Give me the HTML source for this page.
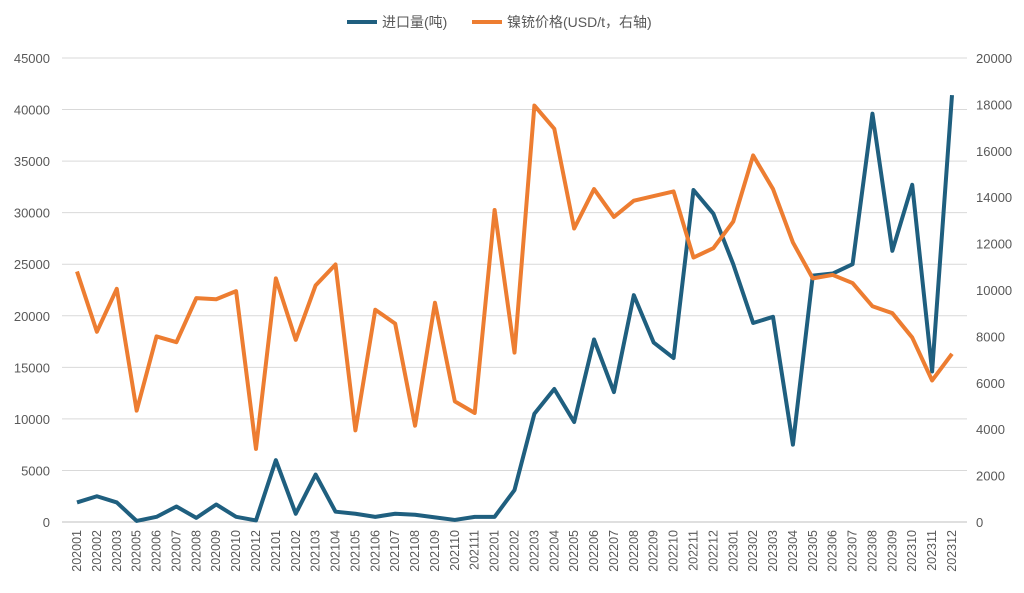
<!DOCTYPE html>
<html><head><meta charset="utf-8">
<style>
body{margin:0;background:#fff;font-family:"Liberation Sans","Noto Sans CJK SC",sans-serif;}
svg text{font-family:"Liberation Sans","Noto Sans CJK SC",sans-serif;fill:#595959;}
</style></head>
<body>
<svg id="chart" width="1024" height="588" viewBox="0 0 1024 588">
<g id="grid"></g>
<g id="ylab"></g>
<g id="y2lab"></g>
<g id="xlab"></g>
<g id="series"></g>
<g>
 <g>
  <line x1="347" y1="22" x2="377" y2="22" stroke="#1f5f7f" stroke-width="4"/>
  <text x="382" y="27" font-size="14">进口量(吨)</text>
 </g>
 <g>
  <line x1="472" y1="22" x2="502" y2="22" stroke="#ed7d31" stroke-width="4"/>
  <text x="507" y="27" font-size="14">镍铳价格(USD/t，右轴)</text>
 </g>
</g>
</svg>
<script>
const categories=["202001","202002","202003","202005","202006","202007","202008","202009","202010","202012","202101","202102","202103","202104","202105","202106","202107","202108","202109","202110","202111","202201","202202","202203","202204","202205","202206","202207","202208","202209","202210","202211","202212","202301","202302","202303","202304","202305","202306","202307","202308","202309","202310","202311","202312"];
const importVol=[1900,2500,1900,100,500,1500,400,1700,500,150,6000,800,4600,1000,800,500,800,700,450,200,500,500,3100,10500,12900,9700,17700,12600,22000,17400,15900,32200,29900,25000,19300,19900,7500,23900,24100,25000,39600,26300,32700,14600,41400];
const price=[10800,8200,10050,4800,8000,7750,9650,9600,9950,3150,10500,7850,10200,11100,3950,9150,8550,4150,9450,5200,4700,13450,7300,17950,16950,12650,14350,13150,13850,14050,14250,11400,11800,12950,15800,14350,12050,10500,10650,10300,9300,9000,7950,6100,7250];
const leftTicks=[0,5000,10000,15000,20000,25000,30000,35000,40000,45000];
const rightTicks=[0,2000,4000,6000,8000,10000,12000,14000,16000,18000,20000];
const NS="http://www.w3.org/2000/svg";
const X0=77,X1=952,Y0=522,Y1=58;
const x=i=>X0+(X1-X0)*i/(categories.length-1);
const yL=v=>Y0-(Y0-Y1)*v/45000;
const yR=v=>Y0-(Y0-Y1)*v/20000;
function mk(t,a,p){const e=document.createElementNS(NS,t);for(const k in a)e.setAttribute(k,a[k]);p.appendChild(e);return e;}
const grid=document.getElementById('grid'),yl=document.getElementById('ylab'),yr=document.getElementById('y2lab'),xl=document.getElementById('xlab'),ser=document.getElementById('series');
leftTicks.forEach(v=>{
 const l=mk('line',{x1:62,x2:967,y1:yL(v),y2:yL(v),stroke:v===0?'#bfbfbf':'#d9d9d9','stroke-width':1},grid);
 
 
 const t=mk('text',{x:50,y:yL(v)+5,'text-anchor':'end','font-size':13},yl);t.textContent=v;
 
 
});
rightTicks.forEach(v=>{
 const t=mk('text',{x:976,y:yR(v)+5,'font-size':13},yr);t.textContent=v;
 
 
});
categories.forEach((c,i)=>{
 const t=mk('text',{x:0,y:0,'font-size':12.5,'text-anchor':'end',transform:`translate(${x(i)+4},530) rotate(-90)`},xl);t.textContent=c;
 
 
});
const p1=mk('polyline',{points:importVol.map((v,i)=>x(i)+','+yL(v)).join(' '),fill:'none',stroke:'#1f5f7f','stroke-width':4,'stroke-linejoin':'round'},ser);


const p2=mk('polyline',{points:price.map((v,i)=>x(i)+','+yR(v)).join(' '),fill:'none',stroke:'#ed7d31','stroke-width':4,'stroke-linejoin':'round'},ser);


</script>
</body></html>
